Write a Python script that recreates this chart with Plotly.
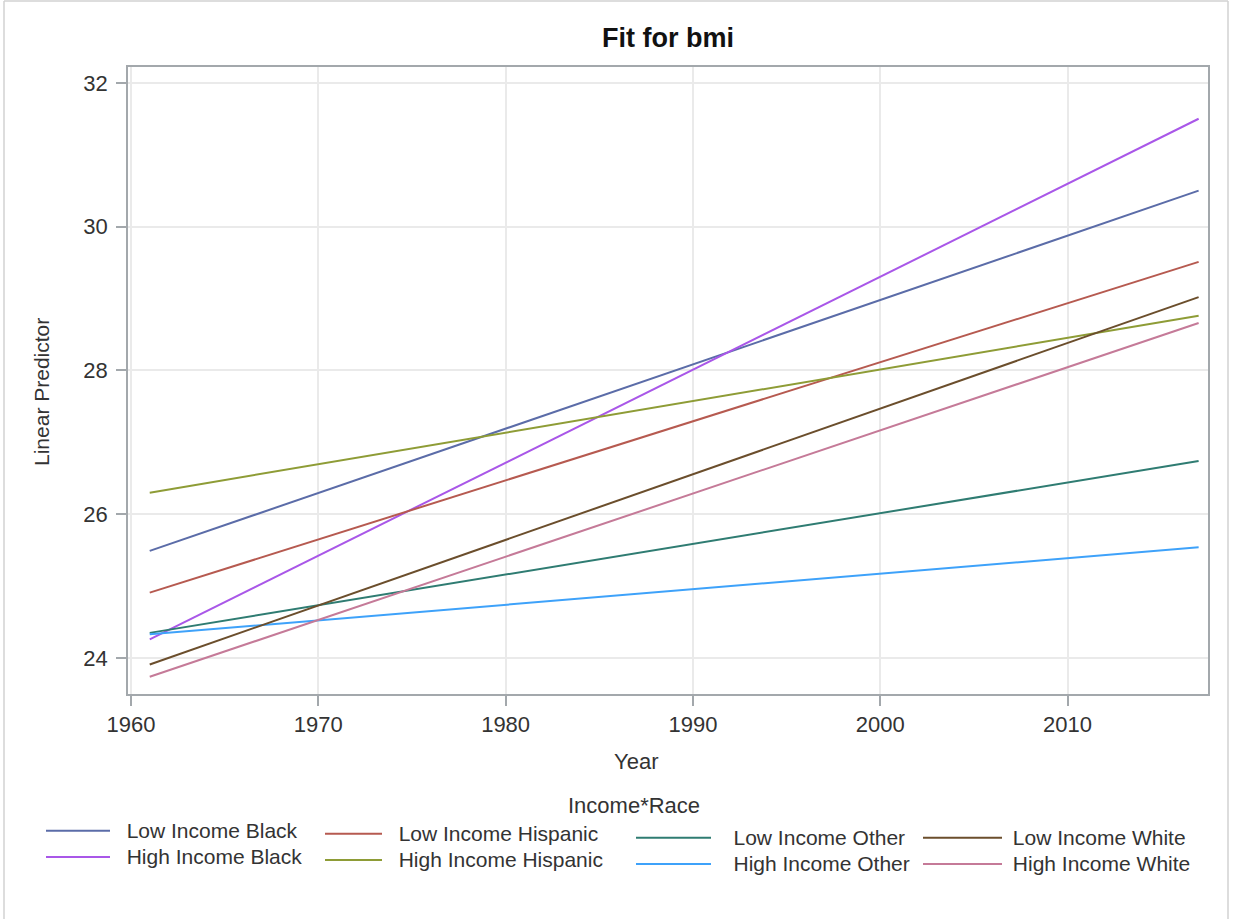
import plotly.graph_objects as go

# Fitted linear predictor for BMI by income*race group, evaluated at the ends of the year range
years = [1961, 2017]

low_income_black = [25.49, 30.50]
high_income_black = [24.26, 31.50]
low_income_hispanic = [24.91, 29.51]
high_income_hispanic = [26.30, 28.76]
low_income_other = [24.35, 26.74]
high_income_other = [24.33, 25.54]
low_income_white = [23.91, 29.02]
high_income_white = [23.74, 28.66]

series = [
    ("Low Income Black", low_income_black, "#5B6CA8", "legend"),
    ("High Income Black", high_income_black, "#A957E8", "legend"),
    ("Low Income Hispanic", low_income_hispanic, "#B65A50", "legend2"),
    ("High Income Hispanic", high_income_hispanic, "#8E9C36", "legend2"),
    ("Low Income Other", low_income_other, "#2F7C72", "legend3"),
    ("High Income Other", high_income_other, "#3EA2FA", "legend3"),
    ("Low Income White", low_income_white, "#6B4E2C", "legend4"),
    ("High Income White", high_income_white, "#C57A98", "legend4"),
]

# leading gap between each legend key and its label, per legend column
label_pad = {"legend": 2, "legend2": 2, "legend3": 3, "legend4": 1}

x_ticks = [1960, 1970, 1980, 1990, 2000, 2010]
y_ticks = [24, 26, 28, 30, 32]

FONT = "Liberation Sans, Arial, sans-serif"
W, H = 1233, 919
L, R, T, B = 128, 25, 67, 225
PW, PH = W - L - R, H - T - B


def px_x(px):
    return (px - L) / PW


def px_y(py):
    return (H - B - py) / PH


fig = go.Figure()
for name, vals, color, leg in series:
    label = "\u00a0" * label_pad[leg] + name
    fig.add_trace(go.Scatter(
        x=years, y=vals, mode="lines",
        # legend rows are packed tighter than the label size would normally give
        name=f'<span style="font-size:21px">{label}</span>',
        legendgroup=name,
        line=dict(color=color, width=2), legend=leg,
    ))

axis_common = dict(
    showline=True, linecolor="#a3a8ac", linewidth=1.5, mirror=True,
    ticks="outside", ticklen=10, tickwidth=1.5, tickcolor="#a3a8ac",
    showgrid=True, gridcolor="#eaeaea", gridwidth=1.5, zeroline=False,
    tickfont=dict(family=FONT, size=22, color="#333333"),
)

fig.update_xaxes(range=[1959.84, 2017.5], tickvals=x_ticks, **axis_common)
fig.update_yaxes(range=[23.5, 32.22], tickvals=y_ticks, ticklabelstandoff=4, **axis_common)

legend_common = dict(
    orientation="v", xanchor="left", yanchor="top", bgcolor="rgba(0,0,0,0)",
    font=dict(family=FONT, size=18, color="#333333"),
    tracegroupgap=0,
)

fig.update_layout(
    width=W, height=H,
    margin=dict(l=L, r=R, t=T, b=B),
    paper_bgcolor="white", plot_bgcolor="white",
    showlegend=True,
    legend=dict(x=px_x(41), y=px_y(812.5), itemwidth=64, **legend_common),
    legend2=dict(x=px_x(320), y=px_y(815.5), itemwidth=57, **legend_common),
    legend3=dict(x=px_x(631), y=px_y(819.5), itemwidth=75, **legend_common),
    legend4=dict(x=px_x(918), y=px_y(819.5), itemwidth=79, **legend_common),
    title=dict(text="<b>Fit for bmi</b>", x=px_x(668), xref="paper", xanchor="center",
               y=1 - 38 / H, yanchor="middle",
               font=dict(family=FONT, size=27, color="#111111")),
    annotations=[
        dict(text="Year", xref="paper", yref="paper", x=px_x(636), y=px_y(761),
             xanchor="center", yanchor="middle", showarrow=False,
             font=dict(family=FONT, size=22, color="#333333")),
        dict(text="Linear Predictor", xref="paper", yref="paper", x=px_x(41), y=px_y(392),
             xanchor="center", yanchor="middle", showarrow=False, textangle=-90,
             font=dict(family=FONT, size=21, color="#333333")),
        dict(text="Income*Race", xref="paper", yref="paper", x=px_x(634), y=px_y(805),
             xanchor="center", yanchor="middle", showarrow=False,
             font=dict(family=FONT, size=22, color="#333333")),
    ],
    shapes=[
        # light frame around the whole graphic
        dict(type="line", xref="paper", yref="paper", x0=px_x(4), x1=px_x(4),
             y0=px_y(1), y1=px_y(925), line=dict(color="#d2d2d2", width=1.5)),
        dict(type="line", xref="paper", yref="paper", x0=px_x(4), x1=px_x(1228),
             y0=px_y(1), y1=px_y(1), line=dict(color="#d2d2d2", width=1.5)),
        dict(type="line", xref="paper", yref="paper", x0=px_x(1228), x1=px_x(1228),
             y0=px_y(1), y1=px_y(925), line=dict(color="#d2d2d2", width=1.5)),
    ],
)

fig.write_html("out.html")
